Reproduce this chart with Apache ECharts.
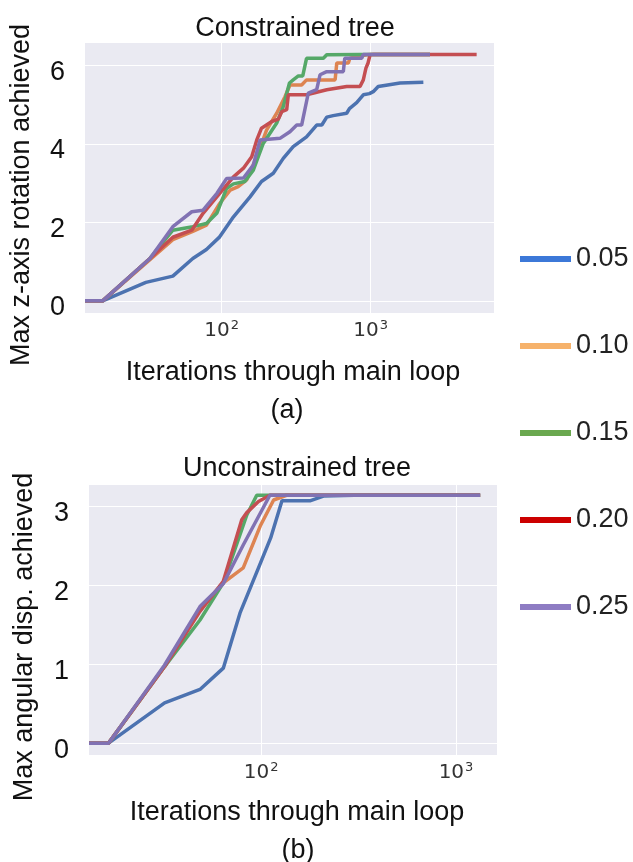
<!DOCTYPE html>
<html>
<head>
<meta charset="utf-8">
<script src="https://cdn.jsdelivr.net/npm/echarts@6/dist/echarts.min.js"></script>
<style>
  html, body { margin: 0; padding: 0; background: #fff; }
  #chart { width: 633px; height: 862px; }
</style>
</head>
<body>
<div id="chart"></div>
<script>
// ---- data ----
const legendNames = ['0.05', '0.10', '0.15', '0.20', '0.25'];
const legendColors = ['#3c78d8', '#f6b26b', '#6aa84f', '#cc0000', '#8e7cc3'];
const lineColors = ['#4c72b0', '#dd8452', '#55a868', '#c44e52', '#8172b3'];

// (a) constrained tree: [iterations, max z-axis rotation]
const con005 = [[12.1,0],[15.9,0],[31,0.47],[47,0.63],[64,1.08],[79,1.31],[97,1.63],[120,2.14],[155,2.65],[185,3.04],[222,3.25],[259,3.63],[302,3.93],[371,4.18],[434,4.48],[470,4.48],[507,4.68],[560,4.72],[690,4.78],[720,4.9],[805,5.05],[892,5.25],[980,5.28],[1040,5.33],[1123,5.46],[1300,5.5],[1573,5.55],[2256,5.57]];
const con010 = [[12.1,0],[15.9,0],[33,1.05],[47,1.56],[64,1.77],[79,1.93],[97,2.48],[114,2.82],[129,2.91],[147,3.08],[172,3.67],[200,4.35],[234,4.78],[266,5.2],[287,5.5],[344,5.5],[371,5.63],[577,5.63],[592,6.06],[708,6.06],[725,6.18],[940,6.27],[1000,6.28],[2500,6.28]];
const con015 = [[12.1,0],[15.9,0],[33,1.08],[47,1.8],[64,1.89],[79,1.97],[93,2.24],[108,2.87],[120,2.98],[143,3.04],[163,3.33],[190,4.01],[234,4.53],[259,4.95],[285,5.55],[302,5.63],[327,5.73],[350,5.73],[371,6.18],[481,6.18],[507,6.27],[848,6.28],[2500,6.28]];
const con020 = [[12.1,0],[15.9,0],[33,1.08],[47,1.62],[63,1.8],[75,2.23],[97,2.74],[120,3.16],[140,3.38],[159,3.67],[172,4.1],[185,4.4],[217,4.57],[240,4.63],[253,4.82],[273,4.87],[280,5.25],[371,5.25],[507,5.38],[690,5.46],[848,5.46],[892,5.63],[929,5.93],[960,6.06],[990,6.27],[1050,6.28],[5140,6.28]];
const con025 = [[12.1,0],[15.9,0],[33,1.08],[47,1.89],[63,2.27],[75,2.31],[93,2.74],[108,3.12],[140,3.13],[163,3.46],[181,4.1],[246,4.14],[287,4.31],[319,4.48],[344,4.48],[381,5.29],[434,5.38],[457,5.76],[507,5.84],[655,5.84],[670,6.18],[870,6.18],[892,6.28],[2500,6.28]];

// (b) unconstrained tree: [iterations, max angular displacement]
const unc005 = [[13.1,0],[16.5,0],[32,0.51],[48.6,0.68],[64,0.95],[78,1.65],[97,2.22],[112,2.6],[128,3.07],[178,3.07],[209,3.13],[300,3.14],[1330,3.14]];
const unc010 = [[13.1,0],[16.5,0],[32,0.97],[48.6,1.69],[64,2.03],[81,2.22],[99,2.75],[116,3.08],[135,3.14],[1330,3.14]];
const unc015 = [[13.1,0],[16.5,0],[32,0.97],[48.6,1.56],[64,2.03],[84.5,2.89],[95,3.14],[1330,3.14]];
const unc020 = [[13.1,0],[16.5,0],[32,0.97],[48.6,1.67],[64,2.05],[79.6,2.83],[84.5,2.92],[97,3.06],[111,3.14],[1330,3.14]];
const unc025 = [[13.1,0],[16.5,0],[32,0.99],[48.6,1.73],[64,2.02],[81,2.51],[111,3.14],[1330,3.14]];

const xTicks = [100, 1000];
const yTicksA = [0, 2, 4, 6];
const yTicksB = [0, 1, 2, 3];

const conSeries = [con005, con010, con015, con020, con025];
const uncSeries = [unc005, unc010, unc015, unc020, unc025];

// ---- chart ----
const chart = echarts.init(document.getElementById('chart'));
const FONT = '"Liberation Sans", Arial, sans-serif';
const TICKFONT = '"DejaVu Sans", sans-serif';

function powLabel(v) {
  const e = Math.round(Math.log10(v));
  return '{b|10}{s|' + e + '}';
}

function xAxisFor(idx, min, max) {
  return {
    type: 'log', logBase: 10, gridIndex: idx, min: min, max: max,
    axisLine: { show: false },
    axisTick: { show: false, customValues: xTicks },
    splitLine: { show: true, lineStyle: { color: '#fff', width: 1 } },
    axisLabel: {
      customValues: xTicks, margin: 6, formatter: powLabel,
      rich: {
        b: { fontFamily: TICKFONT, fontSize: 20, color: '#333', verticalAlign: 'bottom', lineHeight: 22 },
        s: { fontFamily: TICKFONT, fontSize: 13, color: '#333', verticalAlign: 'top', padding: [0, 0, 9, 1], lineHeight: 22 }
      }
    }
  };
}

function yAxisFor(idx, min, max, ticks) {
  return {
    type: 'value', gridIndex: idx, min: min, max: max,
    axisLine: { show: false },
    axisTick: { show: false, customValues: ticks },
    splitLine: { show: true, lineStyle: { color: '#fff', width: 1 } },
    axisLabel: { customValues: ticks, margin: 20, verticalAlign: 'top', lineHeight: 14, fontFamily: FONT, fontSize: 27, color: '#111' }
  };
}

const series = [];
conSeries.forEach((d, i) => {
  series.push({
    name: legendNames[i], type: 'line', xAxisIndex: 0, yAxisIndex: 0,
    data: d, symbol: 'none', lineStyle: { width: 3.5, color: lineColors[i] },
    itemStyle: { color: lineColors[i] }
  });
});
uncSeries.forEach((d, i) => {
  series.push({
    name: legendNames[i], type: 'line', xAxisIndex: 1, yAxisIndex: 1,
    data: d, symbol: 'none', lineStyle: { width: 3.5, color: lineColors[i] },
    itemStyle: { color: lineColors[i] }
  });
});

function label(text, x, y) {
  return {
    text: text, left: x, top: y, textAlign: 'center',
    textStyle: { fontFamily: FONT, fontSize: 27, fontWeight: 'normal', color: '#111', lineHeight: 31 }
  };
}

const option = {
  animation: false,
  backgroundColor: '#fff',
  title: [
    label('Constrained tree', 290, 8),
    label('Iterations through main loop', 288, 352),
    label('(a)', 282, 390),
    label('Unconstrained tree', 292, 448),
    label('Iterations through main loop', 292, 792),
    label('(b)', 293, 830)
  ],
  graphic: [
    { type: 'text', x: 22, y: 195, rotation: Math.PI / 2,
      style: { text: 'Max z-axis rotation achieved', fontFamily: FONT, fontSize: 27, fill: '#111', align: 'center', verticalAlign: 'middle' } },
    { type: 'text', x: 25, y: 637, rotation: Math.PI / 2,
      style: { text: 'Max angular disp. achieved', fontFamily: FONT, fontSize: 27, fill: '#111', align: 'center', verticalAlign: 'middle' } }
  ],
  legend: {
    orient: 'vertical', left: 520, top: 243, itemGap: 55, padding: 0,
    itemWidth: 51, itemHeight: 6, icon: 'rect',
    textStyle: { fontFamily: FONT, fontSize: 27, color: '#222', lineHeight: 32 },
    itemStyle: { borderWidth: 0 },
    data: legendNames.map((n, i) => ({ name: n, itemStyle: { color: legendColors[i] } }))
  },
  grid: [
    { left: 85, right: 139, top: 43, height: 270, show: true, backgroundColor: '#eaeaf2', borderWidth: 0 },
    { left: 89, right: 136, top: 485, height: 270, show: true, backgroundColor: '#eaeaf2', borderWidth: 0 }
  ],
  xAxis: [xAxisFor(0, 12.1, 6720), xAxisFor(1, 13.1, 1623)],
  yAxis: [yAxisFor(0, -0.31, 6.57, yTicksA), yAxisFor(1, -0.15, 3.27, yTicksB)],
  series: series
};

chart.setOption(option);
</script>
</body>
</html>
